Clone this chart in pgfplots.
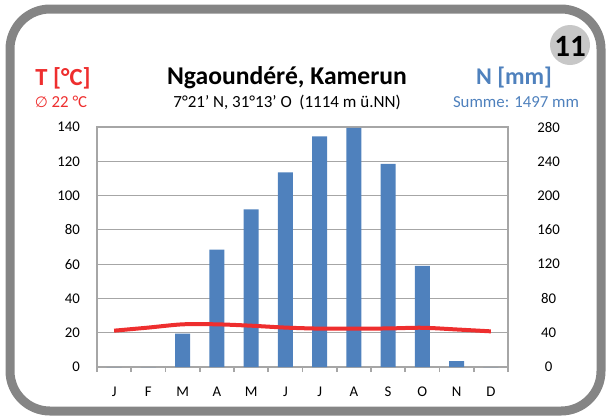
\documentclass[border=0pt]{standalone}
\usepackage{pgfplots}
\pgfplotsset{compat=1.18}
\usepackage{fontspec}
\setmainfont{Carlito}
\newfontfamily\symfont{DejaVu Sans}

\definecolor{barblue}{HTML}{4F81BD}
\definecolor{tred}{HTML}{EE2E2E}
\definecolor{cardframe}{HTML}{858585}
\definecolor{gridc}{HTML}{A6A6A6}

\begin{document}
\begin{tikzpicture}
% card, badge and header (coordinates in reference pixels)
\begin{scope}[x=0.5pt,y=-0.5pt]
\useasboundingbox (0,0) rectangle (608,419);
\draw[cardframe, line width=4.5pt, rounded corners=20pt] (10,9) rectangle (601,411);
\fill[black!22] (570,45) circle (10pt);
\node[font=\fontsize{15.5}{16}\selectfont\bfseries] at (570,46) {11};
\node[tred, font=\fontsize{12.3}{14}\selectfont\bfseries] at (63,78) {T [°C]};
\node[tred, font=\fontsize{8.4}{9}\selectfont] at (61,102) {{\symfont\fontsize{7.5}{9}\selectfont ∅} 22 °C};
\node[font=\fontsize{12.8}{14}\selectfont\bfseries] at (287,78) {Ngaoundéré, Kamerun};
\node[font=\fontsize{8.5}{9}\selectfont] at (287,102) {7°21' N, 31°13' O\ \ (1114 m ü.NN)};
\node[barblue, font=\fontsize{12}{14}\selectfont\bfseries] at (514,78) {N [mm]};
\node[barblue, font=\fontsize{8.4}{9}\selectfont] at (516,102) {Summe: 1497 mm};
\end{scope}

% precipitation (right axis)
\begin{axis}[
    at={(48.5pt,-183.5pt)}, anchor=south west,
    width=205.5pt, height=120pt, scale only axis,
    xmin=-0.5, xmax=11.5, ymin=0, ymax=280,
    xtick={0,...,11},
    xticklabels={J,F,M,A,M,J,J,A,S,O,N,D},
    minor xtick={-0.5,0.5,...,11.5},
    xtick pos=left,
    major x tick style={draw=none},
    minor tick length=2.5pt,
    minor x tick style={gridc, line width=0.9pt},
    tick align=outside,
    ytick={0,40,...,280},
    yticklabel pos=right,
    major y tick style={draw=none},
    ymajorgrids,
    grid style={gridc, line width=0.6pt},
    axis line style={gridc, line width=1pt},
    tick label style={font=\fontsize{7.4}{8}\selectfont},
    yticklabel style={anchor=center, xshift=16pt},
    xticklabel style={anchor=center, yshift=-8pt},
    /pgf/number format/assume math mode=true,
]
\addplot[ybar, bar width=7.5pt, fill=barblue, draw=none] coordinates {
    (0,0) (1,0) (2,39) (3,137) (4,184) (5,227)
    (6,269) (7,279) (8,237) (9,118) (10,7) (11,0)
};
\end{axis}

% temperature (left axis)
\begin{axis}[
    at={(48.5pt,-183.5pt)}, anchor=south west,
    width=205.5pt, height=120pt, scale only axis,
    xmin=-0.5, xmax=11.5, ymin=0, ymax=140,
    hide x axis,
    ytick={0,20,...,140},
    yticklabel pos=left,
    major tick length=0pt,
    axis line style={draw=none},
    tick label style={font=\fontsize{7.4}{8}\selectfont},
    yticklabel style={anchor=east, xshift=-5pt},
    /pgf/number format/assume math mode=true,
]
\addplot[tred, line width=2pt, smooth] coordinates {
    (0,21.2) (1,23.0) (2,24.9) (3,24.9) (4,24.1) (5,23.0)
    (6,22.4) (7,22.4) (8,22.5) (9,22.9) (10,21.9) (11,20.8)
};
\end{axis}
\end{tikzpicture}
\end{document}
